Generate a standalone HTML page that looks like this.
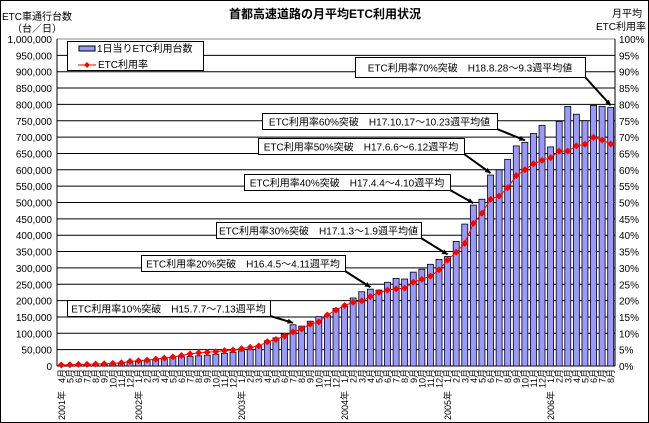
<!DOCTYPE html>
<html><head><meta charset="utf-8">
<style>
html,body{margin:0;padding:0;background:#fff;}
svg{display:block;font-family:"Liberation Sans","Noto Sans CJK JP",sans-serif;}
</style></head>
<body>
<svg id="chart" width="649" height="423" viewBox="0 0 649 423">
<rect x="0.5" y="0.5" width="648" height="422" fill="#fff" stroke="#000"/>
<text x="325" y="18" text-anchor="middle" font-size="12" font-weight="bold">首都高速道路の月平均ETC利用状況</text>
<text x="2" y="20" font-size="10">ETC車通行台数</text>
<text x="12" y="32" font-size="10">（台／日）</text>
<text x="642" y="17" font-size="10" text-anchor="end">月平均</text>
<text x="646" y="30" font-size="10" text-anchor="end">ETC利用率</text>
<g id="grid"></g><g id="bars"></g><g id="line"></g><g id="axes"></g><g id="notes"></g>
<g>
<rect x="67.5" y="41.5" width="136" height="29" fill="#fff" stroke="#000"/>
<rect x="79" y="46" width="16" height="5" fill="#9999ff" stroke="#000"/>
<text x="97" y="52" font-size="10">1日当りETC利用台数</text>
<line x1="78" y1="65" x2="96" y2="65" stroke="#ff0000"/>
<path d="M87 62 L90 65 L87 68 L84 65Z" fill="#ff0000"/>
<text x="98" y="68" font-size="10">ETC利用率</text>
</g>
</svg>
<script>
const months = ["4月","5月","6月","7月","8月","9月","10月","11月","12月","1月","2月","3月","4月","5月","6月","7月","8月","9月","10月","11月","12月","1月","2月","3月","4月","5月","6月","7月","8月","9月","10月","11月","12月","1月","2月","3月","4月","5月","6月","7月","8月","9月","10月","11月","12月","1月","2月","3月","4月","5月","6月","7月","8月","9月","10月","11月","12月","1月","2月","3月","4月","5月","6月","7月","8月"];
const years = [[0,"2001年"],[9,"2002年"],[21,"2003年"],[33,"2004年"],[45,"2005年"],[57,"2006年"]];
const vehicles = [1000,1500,2000,2500,3000,4000,6000,8000,10000,14000,17000,20000,22000,26000,28000,29000,31000,33000,36000,39000,42000,46000,51000,61000,77000,86000,98000,126000,122000,137000,151000,155000,176000,182000,208000,227000,235000,232000,256000,268000,266000,287000,296000,311000,326000,335000,381000,434000,492000,510000,584000,600000,632000,673000,684000,711000,736000,670000,748000,794000,770000,750000,797000,794000,791000];
const rates = [0.3,0.4,0.5,0.5,0.6,0.7,0.8,1.0,1.4,1.6,1.8,2.1,2.4,2.8,3.2,3.7,4.0,4.2,4.4,4.7,4.9,5.3,5.7,6.1,7.4,8.1,9.1,10.4,11.3,12.8,13.5,15.6,17.1,18.5,19.5,19.9,21.2,22.5,23.2,23.6,23.8,25.6,26.5,27.5,29.4,32.4,34.8,37.5,43.6,46.7,51.0,52.0,54.5,58.2,60.0,61.8,62.9,63.7,65.7,65.7,67.3,67.8,69.9,69.1,67.9];
const leftTicks = ["0","50,000","100,000","150,000","200,000","250,000","300,000","350,000","400,000","450,000","500,000","550,000","600,000","650,000","700,000","750,000","800,000","850,000","900,000","950,000","1,000,000"];
const rightTicks = ["0%","5%","10%","15%","20%","25%","30%","35%","40%","45%","50%","55%","60%","65%","70%","75%","80%","85%","90%","95%","100%"];
const notes = [
 ["ETC利用率10%突破　H15.7.7～7.13週平均",27,67,300,203],
 ["ETC利用率20%突破　H16.4.5～4.11週平均",36,141,255,204],
 ["ETC利用率30%突破　H17.1.3～1.9週平均値",45,216,222,205],
 ["ETC利用率40%突破　H17.4.4～4.10週平均",48,244,174,206],
 ["ETC利用率50%突破　H17.6.6～6.12週平均",50,258,138,206],
 ["ETC利用率60%突破　H17.10.17～10.23週平均値",54,262,113,235],
 ["ETC利用率70%突破　H18.8.28～9.3週平均値",64,355,57,230]
];
const NS="http://www.w3.org/2000/svg";
const L=57,R=615,T=39,B=366,n=months.length,bw=(R-L)/n;
const xC=i=>L+bw*(i+0.5);
const yV=v=>B-(v/1000000)*(B-T);
const yP=p=>B-(p/100)*(B-T);
function mk(tag,attrs,parent,txt){const e=document.createElementNS(NS,tag);for(const k in attrs)e.setAttribute(k,attrs[k]);if(txt!=null)e.textContent=txt;document.getElementById(parent).appendChild(e);return e;}
leftTicks.forEach((t,i)=>{
 const y=B-i*(B-T)/20;
 const g=mk("line",{x1:L,x2:R,y1:y,y2:y,stroke:i==20?"#888":"#000","stroke-width":1},"grid");
 
 
 const a=mk("text",{x:52,y:y+4,"font-size":10,"text-anchor":"end"},"axes",t);
 
 
 const b=mk("text",{x:619,y:y+4,"font-size":10},"axes",rightTicks[i]);
 
 
});
vehicles.forEach((v,i)=>{
 const r=mk("rect",{x:xC(i)-3,y:yV(v),width:6,height:B-yV(v),fill:"#9999ff",stroke:"#000","stroke-width":0.8},"bars");
 
 
});
const pl=mk("polyline",{points:rates.map((p,i)=>xC(i)+","+yP(p)).join(" "),fill:"none",stroke:"#ff0000","stroke-width":1},"line");


rates.forEach((p,i)=>{
 const x=xC(i),y=yP(p);
 const m=mk("path",{d:`M${x} ${y-3.5}L${x+3.5} ${y}L${x} ${y+3.5}L${x-3.5} ${y}Z`,fill:"#ff0000"},"line");
 
 
});
mk("line",{x1:L,x2:L,y1:T,y2:B,stroke:"#000"},"axes");
mk("line",{x1:R,x2:R,y1:T,y2:B,stroke:"#000"},"axes");
months.forEach((m,i)=>{
 const t=mk("text",{transform:`translate(${xC(i)+3.5},${369}) rotate(-90)`,"font-size":9,"text-anchor":"end"},"axes",m);
 
 
});
years.forEach(([i,y])=>{
 const t=mk("text",{transform:`translate(${xC(i)+3.5},${420}) rotate(-90)`,"font-size":9},"axes",y);
 
 
});
notes.forEach(([txt,i,x,y,w])=>{
 const h=notes.indexOf(notes[6])===notes.findIndex(n=>n[0]===txt)?20:16;
 const r=mk("rect",{x:x+0.5,y:y+0.5,width:w,height:h,fill:"#fff",stroke:"#000"},"notes");
 
 
 const t=mk("text",{x:x+w/2,y:y+h/2+4.5,"font-size":10,"text-anchor":"middle"},"notes",txt);
 
 
 const x1=x+w,y1=y+h,x2=xC(i),y2=yV(vehicles[i])-2;
 const ln=mk("line",{x1:x1,y1:y1,x2:x2,y2:y2,stroke:"#000","stroke-width":2},"notes");
 
 
 const a=Math.atan2(y2-y1,x2-x1),s=6;
 mk("path",{d:`M${x2} ${y2}L${x2-s*Math.cos(a-0.45)} ${y2-s*Math.sin(a-0.45)}L${x2-s*Math.cos(a+0.45)} ${y2-s*Math.sin(a+0.45)}Z`,fill:"#000"},"notes");
});
</script>
</body></html>
